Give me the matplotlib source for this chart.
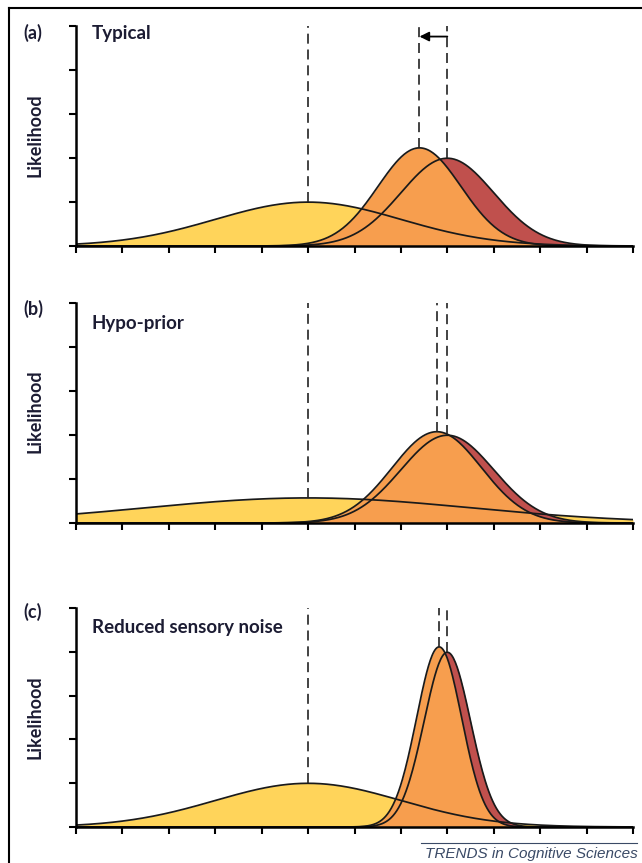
import numpy as np
import matplotlib.pyplot as plt
from matplotlib.lines import Line2D

# Panel labels and titles
panel_tags = ['(a)', '(b)', '(c)']
panel_titles = ['Typical', 'Hypo-prior', 'Reduced sensory noise']

# Gaussian parameters (x axis 0..12, y axis 0..5)
prior_means = [5.0, 5.0, 5.0]
prior_sds = [2.0, 3.5, 2.0]
lik_means = [8.0, 8.0, 8.0]
lik_sds = [1.0, 1.0, 0.5]
curve_area = 5.0  # every curve encloses the same area

x_ticks = list(range(0, 13))
y_ticks = list(range(0, 6))

YELLOW = '#FFD45A'
ORANGE = '#F79E4E'
RED = '#C0504D'
TEXT = '#1C1C33'

W, H = 642, 863


def gauss(x, m, s):
    return curve_area / (s * np.sqrt(2 * np.pi)) * np.exp(-(x - m) ** 2 / (2 * s ** 2))


def fx(px):
    return px / W


def fy(py):
    return 1 - py / H


fig = plt.figure(figsize=(W / 100, H / 100), dpi=100)

# pixel extents of each plot area (top, bottom)
panel_px = [(26, 246), (303, 523), (608, 827)]
left_px, right_px = 76, 633

x = np.linspace(0, 12, 600)

for i in range(3):
    top, bot = panel_px[i]
    ax = fig.add_axes([fx(left_px), fy(bot), (right_px - left_px) / W, (bot - top) / H])

    pm, ps = prior_means[i], prior_sds[i]
    lm, ls = lik_means[i], lik_sds[i]
    # posterior from the product of the two gaussians
    prec = 1 / ps ** 2 + 1 / ls ** 2
    qs = np.sqrt(1 / prec)
    qm = (pm / ps ** 2 + lm / ls ** 2) / prec

    prior = gauss(x, pm, ps)
    lik = gauss(x, lm, ls)
    post = gauss(x, qm, qs)

    ax.fill_between(x, 0, prior, color=YELLOW, lw=0)
    ax.fill_between(x, 0, lik, color=RED, lw=0)
    ax.fill_between(x, 0, post, color=ORANGE, lw=0)
    for c in (prior, lik, post):
        ax.plot(x, c, color='#1a1a1a', lw=1.25)

    # dashed lines from the top down to each peak
    for m, s in ((pm, ps), (lm, ls), (qm, qs)):
        ax.plot([m, m], [gauss(m, m, s), 5], color='#222222', lw=1.2,
                ls=(0, (6, 3.5)))

    if i == 0:
        ax.annotate('', xy=(qm, 4.76), xytext=(lm, 4.76),
                    arrowprops=dict(arrowstyle='-|>', color='black', lw=1.3,
                                    mutation_scale=14, shrinkA=0, shrinkB=0))

    ax.set_xlim(0, 12)
    ax.set_ylim(0, 5)
    ax.set_xticks(x_ticks)
    ax.set_yticks(y_ticks)
    ax.set_xticklabels([])
    ax.set_yticklabels([])
    ax.tick_params(direction='out', length=5, width=1.5, color='black')
    for sp in ('top', 'right'):
        ax.spines[sp].set_visible(False)
    for sp in ('left', 'bottom'):
        ax.spines[sp].set_linewidth(1.8)

# text labels
tag_y = [33, 309, 612]
title_y = [33, 323, 628]
ylab_y = [135, 411, 717]
for i in range(3):
    fig.text(fx(23), fy(tag_y[i]), panel_tags[i], fontsize=13, fontweight='bold',
             family='Lato', color=TEXT, va='center', ha='left')
    fig.text(fx(92), fy(title_y[i]), panel_titles[i], fontsize=13.5, fontweight='bold',
             family='Lato', color=TEXT, va='center', ha='left')
    fig.text(fx(35), fy(ylab_y[i]), 'Likelihood', fontsize=13, fontweight='bold',
             family='Lato', color=TEXT, va='center', ha='center', rotation=90)

# frame round the figure
fig.add_artist(Line2D([fx(9), fx(9)], [fy(8), 0], transform=fig.transFigure,
                      color='black', lw=1.5))
fig.add_artist(Line2D([fx(9), 1], [fy(8), fy(8)], transform=fig.transFigure,
                      color='black', lw=1.5))

# journal footer
fig.add_artist(Line2D([fx(421), fx(637)], [fy(843), fy(843)], transform=fig.transFigure,
                      color='#3a4a66', lw=0.8))
fig.text(fx(638), fy(854), 'TRENDS in Cognitive Sciences', fontsize=11, style='italic',
         family='Liberation Sans', color='#3a4a66', ha='right', va='center')

fig.savefig('out.png', dpi=100)
